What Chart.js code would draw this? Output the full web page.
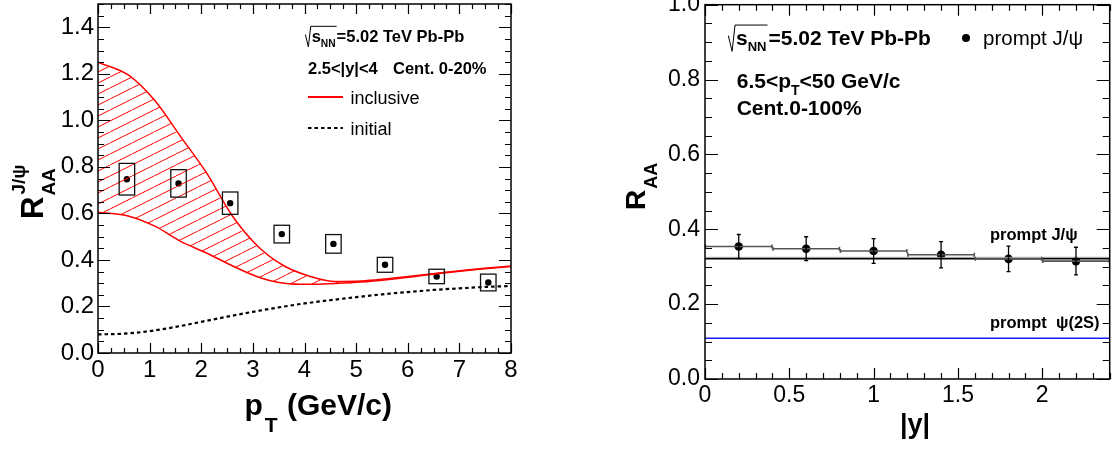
<!DOCTYPE html>
<html><head><meta charset="utf-8">
<script src="https://cdn.jsdelivr.net/npm/chart.js@4.4.0/dist/chart.umd.min.js"></script>
<style>
html,body{margin:0;padding:0;background:#fff;overflow:hidden;width:1112px;height:449px}
#c1{position:absolute;left:0;top:0}
#c2{position:absolute;left:556px;top:0}
</style></head><body>
<canvas id="c1" width="556" height="449"></canvas>
<canvas id="c2" width="558" height="449"></canvas>
<script>
// ---------- data (left panel: R_AA vs pT) ----------
const bandX     = [0, 0.6, 1.1, 1.6, 2.1, 2.6, 3.1, 3.6, 4.1, 4.6, 5.1, 5.6, 6.1, 6.6, 7.1, 7.6, 8];
const bandUpper = [1.25, 1.193, 1.085, 0.93, 0.775, 0.59, 0.458, 0.375, 0.33, 0.307, 0.309, 0.319, 0.331, 0.344, 0.356, 0.366, 0.374];
const bandLower = [0.605, 0.588, 0.545, 0.48, 0.43, 0.375, 0.327, 0.3, 0.295, 0.299, 0.305, 0.315, 0.328, 0.342, 0.354, 0.364, 0.372];
const initialX  = [0, 0.5, 1, 1.5, 2, 2.5, 3, 3.5, 4, 4.5, 5, 5.5, 6, 6.5, 7, 7.5, 8];
const initialY  = [0.08, 0.083, 0.094, 0.112, 0.134, 0.156, 0.177, 0.196, 0.213, 0.227, 0.24, 0.252, 0.262, 0.271, 0.278, 0.284, 0.288];
const ptX   = [0.56, 1.56, 2.56, 3.56, 4.56, 5.56, 6.56, 7.56];
const ptY   = [0.747, 0.729, 0.644, 0.511, 0.469, 0.379, 0.329, 0.303];
const ptSys = [0.068, 0.059, 0.048, 0.038, 0.040, 0.032, 0.031, 0.036];
const ptBoxHalfX = 0.15;
const leftXTicks = [0, 1, 2, 3, 4, 5, 6, 7, 8];
const leftYTicks = [0, 0.2, 0.4, 0.6, 0.8, 1.0, 1.2, 1.4];

// ---------- data (right panel: R_AA vs |y|) ----------
const yBinX    = [0.2, 0.6, 1.0, 1.4, 1.8, 2.2];
const yBinHalf = [0.2, 0.2, 0.2, 0.2, 0.2, 0.2];
const yRaa     = [0.354, 0.348, 0.342, 0.332, 0.321, 0.315];
const yErr     = [0.032, 0.032, 0.033, 0.035, 0.034, 0.037];
const modelJpsi  = 0.321;
const modelPsi2S = 0.109;
const rightXTicks = [0, 0.5, 1, 1.5, 2];
const rightYTicks = [0, 0.2, 0.4, 0.6, 0.8, 1.0];

const FONT = '"Liberation Sans", Arial, Helvetica, sans-serif';
Chart.defaults.font.family = FONT;
Chart.defaults.color = '#000';

function makeHatch(){
  const w = 22, h = 11;
  const c = document.createElement('canvas'); c.width = w; c.height = h;
  const g = c.getContext('2d');
  g.strokeStyle = '#ff0000'; g.lineWidth = 1;
  g.beginPath();
  for (const dx of [-w, 0, w]) { g.moveTo(dx, h); g.lineTo(dx + w, 0); }
  g.stroke();
  return g.createPattern(c, 'repeat');
}

function rootFrame(cfg){
  return {id: 'rootFrame', afterDraw(chart){
    const {ctx, chartArea: a, scales: {x, y}} = chart;
    ctx.save();
    ctx.strokeStyle = '#000'; ctx.lineWidth = 1.5;
    ctx.strokeRect(a.left, a.top, a.right - a.left, a.bottom - a.top);
    ctx.lineWidth = 1.2;
    ctx.beginPath();
    const nx = Math.round((x.max - x.min) / cfg.xMinor);
    for (let i = 0; i <= nx; i++){
      const v = x.min + i * cfg.xMinor;
      const r = v / cfg.xMajor, maj = Math.abs(r - Math.round(r)) < 1e-4;
      const L = maj ? cfg.xMajLen : cfg.xMinLen, px = Math.round(x.getPixelForValue(v)) + 0.5;
      ctx.moveTo(px, a.bottom); ctx.lineTo(px, a.bottom - L);
      ctx.moveTo(px, a.top); ctx.lineTo(px, a.top + L);
    }
    const ny = Math.round((y.max - y.min) / cfg.yMinor);
    for (let i = 0; i <= ny; i++){
      const v = y.min + i * cfg.yMinor;
      const r = v / cfg.yMajor, maj = Math.abs(r - Math.round(r)) < 1e-4;
      const L = maj ? cfg.yMajLen : cfg.yMinLen, py = Math.round(y.getPixelForValue(v)) + 0.5;
      ctx.moveTo(a.left, py); ctx.lineTo(a.left + L, py);
      ctx.moveTo(a.right, py); ctx.lineTo(a.right - L, py);
    }
    ctx.stroke();
    ctx.restore();
  }};
}

function txt(ctx, s, x, y, size, bold, align){
  ctx.font = (bold ? 'bold ' : '') + size + 'px ' + FONT;
  ctx.textAlign = align || 'left'; ctx.textBaseline = 'alphabetic';
  ctx.fillStyle = '#000';
  ctx.fillText(s, x, y);
  return ctx.measureText(s).width;
}
function sqrtS(ctx, x, base, size){
  const sub = size * 0.62;
  ctx.font = 'bold ' + size + 'px ' + FONT; const sw = ctx.measureText('s').width;
  ctx.font = 'bold ' + sub + 'px ' + FONT; const nw = ctx.measureText('NN').width;
  const top = base - size * 0.95, xr = x + size * 0.32;
  ctx.save(); ctx.strokeStyle = '#000'; ctx.lineWidth = 1;
  ctx.beginPath();
  ctx.moveTo(x, base - size * 0.45); ctx.lineTo(x + size * 0.18, base + size * 0.3);
  ctx.lineTo(xr, top); ctx.lineTo(xr + sw + nw + 2, top);
  ctx.stroke(); ctx.restore();
  txt(ctx, 's', xr + 1, base, size, true);
  txt(ctx, 'NN', xr + 1 + sw, base + size * 0.3, sub, true);
  return xr + 2 + sw + nw;
}

function scaleX(ticks, fmt, pad, size, h){
  return {type: 'linear', afterFit(s){ s.height = h; s.paddingLeft = 0; s.paddingRight = 0; },
    afterBuildTicks(s){ s.ticks = ticks.map(v => ({value: v})); },
    grid: {display: false, drawTicks: false}, border: {display: false},
    ticks: {font: {size: size}, color: '#000', padding: pad, maxRotation: 0, autoSkip: false, callback: fmt}};
}
function scaleY(ticks, fmt, pad, size, w){
  return {type: 'linear', afterFit(s){ s.width = w; s.paddingTop = 0; s.paddingBottom = 0; },
    afterBuildTicks(s){ s.ticks = ticks.map(v => ({value: v})); },
    grid: {display: false, drawTicks: false}, border: {display: false},
    ticks: {font: {size: size}, color: '#000', padding: pad, autoSkip: false, callback: fmt}};
}

// ---------- left chart ----------
const boxesPlugin = {id: 'boxes', afterDatasetsDraw(chart){
  const {ctx, scales: {x, y}} = chart;
  ctx.save(); ctx.strokeStyle = '#111'; ctx.lineWidth = 1.3;
  ptX.forEach((vx, i) => {
    const l = x.getPixelForValue(vx - ptBoxHalfX), r = x.getPixelForValue(vx + ptBoxHalfX);
    const t = y.getPixelForValue(ptY[i] + ptSys[i]), b = y.getPixelForValue(ptY[i] - ptSys[i]);
    ctx.strokeRect(l, t, r - l, b - t);
  });
  ctx.restore();
}};
const leftText = {id: 'leftText', afterDraw(chart){
  const ctx = chart.ctx;
  ctx.save();
  const xs = sqrtS(ctx, 305.4, 42, 16.5);
  txt(ctx, '=5.02 TeV Pb-Pb', xs, 42, 16.5, true);
  txt(ctx, '2.5<|y|<4', 308, 74, 16.5, true);
  txt(ctx, 'Cent. 0-20%', 393, 74, 16.5, true);
  ctx.strokeStyle = '#ff0000'; ctx.lineWidth = 2;
  ctx.beginPath(); ctx.moveTo(308, 97); ctx.lineTo(343, 97); ctx.stroke();
  ctx.strokeStyle = '#000'; ctx.lineWidth = 2.2; ctx.setLineDash([3.5, 3]);
  ctx.beginPath(); ctx.moveTo(308, 128); ctx.lineTo(343, 128); ctx.stroke();
  ctx.setLineDash([]);
  txt(ctx, 'inclusive', 350.6, 104, 18, false);
  txt(ctx, 'initial', 350.6, 134.5, 18, false);
  // x title
  let w = txt(ctx, 'p', 244.5, 415, 30, true);
  txt(ctx, 'T', 244.5 + w + 2, 432, 21, true);
  txt(ctx, '(GeV/c)', 287, 415, 30, true);
  // y title (rotated)
  ctx.translate(43.3, 219); ctx.rotate(-Math.PI / 2);
  const rw = txt(ctx, 'R', 0, 0, 31, true);
  txt(ctx, 'AA', rw + 1, 12, 19, true);
  txt(ctx, 'J/\u03C8', rw + 2, -18, 19, true);
  ctx.restore();
}};

new Chart(document.getElementById('c1'), {
  type: 'line',
  data: {datasets: [
    {data: bandX.map((v, i) => ({x: v, y: bandUpper[i]})), borderColor: '#ff0000', borderWidth: 1.5,
     pointRadius: 0, fill: '+1', backgroundColor: makeHatch(), cubicInterpolationMode: 'monotone'},
    {data: bandX.map((v, i) => ({x: v, y: bandLower[i]})), borderColor: '#ff0000', borderWidth: 1.5,
     pointRadius: 0, fill: false, cubicInterpolationMode: 'monotone'},
    {data: initialX.map((v, i) => ({x: v, y: initialY[i]})), borderColor: '#000', borderWidth: 2.2,
     borderDash: [3.5, 3], pointRadius: 0, fill: false, cubicInterpolationMode: 'monotone'},
    {type: 'scatter', data: ptX.map((v, i) => ({x: v, y: ptY[i]})), pointRadius: 3.2,
     backgroundColor: '#000', borderColor: '#000', borderWidth: 0, showLine: false}
  ]},
  options: {
    responsive: false, animation: false, devicePixelRatio: 1,
    layout: {padding: {left: 0, right: 45, top: 3, bottom: 0}},
    plugins: {legend: {display: false}, tooltip: {enabled: false}},
    scales: {
      x: Object.assign(scaleX(leftXTicks, v => String(v), 3, 24, 96), {min: 0, max: 8}),
      y: Object.assign(scaleY(leftYTicks, v => v.toFixed(1), 4, 24, 98), {min: 0, max: 1.5})
    }
  },
  plugins: [boxesPlugin, rootFrame({xMinor: 0.25, xMajor: 1, xMajLen: 10, xMinLen: 5,
                                    yMinor: 0.05, yMajor: 0.2, yMajLen: 12, yMinLen: 6}), leftText]
});

// ---------- right chart ----------
const OFF = 556;
const errPlugin = {id: 'errs', afterDatasetsDraw(chart){
  const {ctx, scales: {x, y}} = chart;
  ctx.save();
  yBinX.forEach((vx, i) => {
    const l = x.getPixelForValue(vx - yBinHalf[i]), r = x.getPixelForValue(vx + yBinHalf[i]);
    const py = y.getPixelForValue(yRaa[i]);
    ctx.strokeStyle = '#555'; ctx.lineWidth = 1.6;
    ctx.beginPath();
    ctx.moveTo(l, py); ctx.lineTo(r, py);
    ctx.moveTo(l + 0.5, py - 2); ctx.lineTo(l + 0.5, py + 2);
    ctx.moveTo(r - 0.5, py - 2); ctx.lineTo(r - 0.5, py + 2);
    ctx.stroke();
    const px = x.getPixelForValue(vx);
    const t = y.getPixelForValue(yRaa[i] + yErr[i]), b = y.getPixelForValue(yRaa[i] - yErr[i]);
    ctx.strokeStyle = '#000'; ctx.lineWidth = 1.3;
    ctx.beginPath();
    ctx.moveTo(px, t); ctx.lineTo(px, b);
    ctx.moveTo(px - 2, t); ctx.lineTo(px + 2, t);
    ctx.moveTo(px - 2, b); ctx.lineTo(px + 2, b);
    ctx.stroke();
  });
  ctx.restore();
}};
const rightText = {id: 'rightText', afterDraw(chart){
  const ctx = chart.ctx;
  ctx.save();
  ctx.translate(-OFF, 0);
  const xs = sqrtS(ctx, 728.3, 45, 21);
  txt(ctx, '=5.02 TeV Pb-Pb', xs + 1, 45, 21, true);
  ctx.beginPath(); ctx.fillStyle = '#000'; ctx.arc(966, 38, 4, 0, Math.PI * 2); ctx.fill();
  txt(ctx, 'prompt J/\u03C8', 983, 45, 20.5, false);
  let w = txt(ctx, '6.5<p', 736.7, 87.5, 21, true);
  const w2 = txt(ctx, 'T', 736.7 + w, 95, 14, true);
  txt(ctx, '<50 GeV/c', 736.7 + w + w2, 87.5, 21, true);
  txt(ctx, 'Cent.0-100%', 736.7, 115, 21, true);
  txt(ctx, 'prompt J/\u03C8', 990, 240, 16.5, true);
  txt(ctx, 'prompt  \u03C8(2S)', 990, 328, 16.5, true);
  txt(ctx, '|y|', 915, 433, 27, true, 'center');
  ctx.translate(645, 210); ctx.rotate(-Math.PI / 2);
  const rw = txt(ctx, 'R', 0, 0, 28, true);
  txt(ctx, 'AA', rw + 1, 12, 18, true);
  ctx.restore();
}};

new Chart(document.getElementById('c2'), {
  type: 'line',
  data: {datasets: [
    {data: [{x: 0, y: modelJpsi + 0.004}, {x: 2.4, y: modelJpsi + 0.004}], borderColor: '#999', borderWidth: 1, pointRadius: 0, fill: false},
    {data: [{x: 0, y: modelJpsi}, {x: 2.4, y: modelJpsi}], borderColor: '#000', borderWidth: 1.5, pointRadius: 0, fill: false},
    {data: [{x: 0, y: modelPsi2S}, {x: 2.4, y: modelPsi2S}], borderColor: '#1a1aff', borderWidth: 1.5, pointRadius: 0, fill: false},
    {type: 'scatter', data: yBinX.map((v, i) => ({x: v, y: yRaa[i]})), pointRadius: 4.3,
     backgroundColor: '#000', borderColor: '#000', borderWidth: 0, showLine: false}
  ]},
  options: {
    responsive: false, animation: false, devicePixelRatio: 1,
    layout: {padding: {left: 0, right: 0, top: 4.7, bottom: 0}},
    plugins: {legend: {display: false}, tooltip: {enabled: false}},
    scales: {
      x: Object.assign(scaleX(rightXTicks, v => String(v), 3, 23, 70), {min: 0, max: 2.4}),
      y: Object.assign(scaleY(rightYTicks, v => v.toFixed(1), 5, 23, 149), {min: 0, max: 1.0})
    }
  },
  plugins: [errPlugin, rootFrame({xMinor: 0.1, xMajor: 0.5, xMajLen: 11, xMinLen: 6,
                                  yMinor: 0.05, yMajor: 0.2, yMajLen: 13, yMinLen: 7}), rightText]
});
</script>
</body></html>
